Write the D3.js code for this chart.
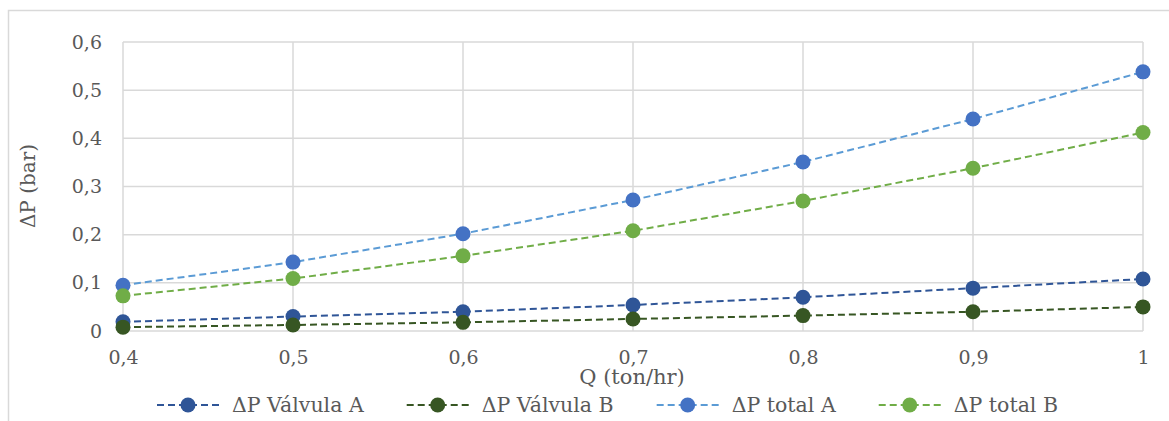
<!DOCTYPE html>
<html>
<head>
<meta charset="utf-8">
<script src="https://cdn.jsdelivr.net/npm/d3@7"></script>
<style>
  body { margin: 0; background: #fff; }
</style>
</head>
<body>
<script>
let w = 1169;
let h = 421;
let serifFont = "DejaVu Serif";

// data
let qValues = [0.4, 0.5, 0.6, 0.7, 0.8, 0.9, 1.0];
let valvulaA = [0.019, 0.030, 0.040, 0.054, 0.070, 0.089, 0.108];
let valvulaB = [0.008, 0.0125, 0.018, 0.025, 0.032, 0.040, 0.050];
let totalA = [0.095, 0.143, 0.202, 0.272, 0.351, 0.440, 0.538];
let totalB = [0.073, 0.109, 0.156, 0.208, 0.270, 0.338, 0.412];
let yTicks = [0, 0.1, 0.2, 0.3, 0.4, 0.5, 0.6];
let seriesNames = ["ΔP Válvula A", "ΔP Válvula B", "ΔP total A", "ΔP total B"];

let series = [
  {name: seriesNames[0], values: valvulaA, line: "#2F5597", dot: "#2F5597"},
  {name: seriesNames[1], values: valvulaB, line: "#375623", dot: "#375623"},
  {name: seriesNames[2], values: totalA, line: "#5B9BD5", dot: "#4472C4"},
  {name: seriesNames[3], values: totalB, line: "#70AD47", dot: "#70AD47"}
];

let fmt = (d) => String(d).replace(".", ",");

let xScale = d3.scaleLinear().domain([0.4, 1.0]).range([123, 1143]);
let yScale = d3.scaleLinear().domain([0, 0.6]).range([331, 42]);

let svg = d3.select("body")
  .append("svg")
  .attr("width", w)
  .attr("height", h);

// chart frame
svg.append("rect")
  .attr("x", 8.5)
  .attr("y", 10.5)
  .attr("width", 1170)
  .attr("height", 420)
  .attr("fill", "none")
  .attr("stroke", "#d9d9d9")
  .attr("stroke-width", 1.5);

// grid
svg.append("g")
  .selectAll("line")
  .data(yTicks)
  .enter()
  .append("line")
  .attr("x1", xScale(0.4))
  .attr("x2", xScale(1.0))
  .attr("y1", (d) => yScale(d))
  .attr("y2", (d) => yScale(d))
  .attr("stroke", "#d9d9d9")
  .attr("stroke-width", 1.5);

svg.append("g")
  .selectAll("line")
  .data(qValues)
  .enter()
  .append("line")
  .attr("x1", (d) => xScale(d))
  .attr("x2", (d) => xScale(d))
  .attr("y1", yScale(0))
  .attr("y2", yScale(0.6))
  .attr("stroke", "#d9d9d9")
  .attr("stroke-width", 1.5);

// axes (labels only)
let xAxis = d3.axisBottom(xScale).tickValues(qValues).tickSize(0).tickPadding(20).tickFormat(fmt);
let yAxis = d3.axisLeft(yScale).tickValues(yTicks).tickSize(0).tickPadding(21).tickFormat(fmt);

let gx = svg.append("g")
  .attr("transform", "translate(0," + yScale(0) + ")")
  .call(xAxis);
let gy = svg.append("g")
  .attr("transform", "translate(" + xScale(0.4) + ",0)")
  .call(yAxis);

[gx, gy].forEach((g) => {
  g.attr("font-family", null).attr("font-size", null);
  g.select(".domain").remove();
  g.selectAll("text")
    .style("font-family", serifFont)
    .style("font-size", "19px")
    .attr("fill", "#595959");
});

// axis titles
svg.append("text")
  .attr("x", 632)
  .attr("y", 384)
  .attr("text-anchor", "middle")
  .style("font-family", serifFont)
  .style("font-size", "21px")
  .attr("fill", "#595959")
  .text("Q (ton/hr)");

svg.append("text")
  .attr("transform", "translate(35," + 186 + ") rotate(-90)")
  .attr("text-anchor", "middle")
  .style("font-family", serifFont)
  .style("font-size", "20px")
  .attr("fill", "#595959")
  .text("ΔP (bar)");

// lines and markers
let line = d3.line()
  .x((d, i) => xScale(qValues[i]))
  .y((d) => yScale(d));

series.forEach((s) => {
  svg.append("path")
    .datum(s.values)
    .attr("d", line)
    .attr("fill", "none")
    .attr("stroke", s.line)
    .attr("stroke-width", 2)
    .attr("stroke-dasharray", "7,4");
});

series.forEach((s) => {
  svg.append("g")
    .selectAll("circle")
    .data(s.values)
    .enter()
    .append("circle")
    .attr("cx", (d, i) => xScale(qValues[i]))
    .attr("cy", (d) => yScale(d))
    .attr("r", 7.5)
    .attr("fill", s.dot);
});

// legend
let legend = svg.append("g");
let lx = 157;
let ly = 405;
series.forEach((s) => {
  let item = legend.append("g").attr("transform", "translate(" + lx + "," + ly + ")");
  item.append("line")
    .attr("x1", 0)
    .attr("x2", 62)
    .attr("y1", 0)
    .attr("y2", 0)
    .attr("stroke", s.line)
    .attr("stroke-width", 2)
    .attr("stroke-dasharray", "7,4");
  item.append("circle")
    .attr("cx", 31)
    .attr("cy", 0)
    .attr("r", 7.5)
    .attr("fill", s.dot);
  let t = item.append("text")
    .attr("x", 75)
    .attr("y", 7)
    .style("font-family", serifFont)
    .style("font-size", "20.5px")
    .attr("fill", "#595959")
    .text(s.name);
  lx += 75 + t.node().getComputedTextLength() + 43;
});
</script>
</body>
</html>
